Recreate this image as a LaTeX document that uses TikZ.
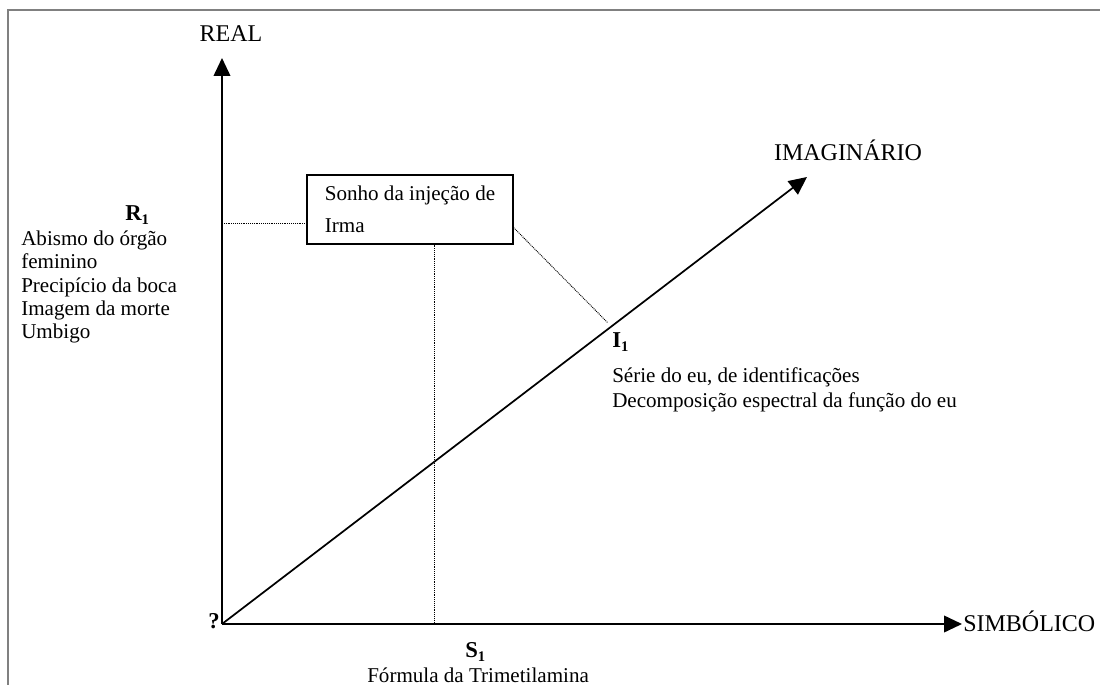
\documentclass[tikz,border=0pt]{standalone}
\usepackage{fontspec}
\setmainfont{Liberation Serif}
\usetikzlibrary{arrows.meta}
\newcommand\subone{\raisebox{-0.45ex}{\fontsize{11}{11}\selectfont\bfseries 1}}
\begin{document}
\begin{tikzpicture}[x=0.75pt,y=-0.75pt,
  txt/.style={inner sep=0pt, font=\fontsize{15.8}{18.5}\selectfont},
  caps/.style={inner sep=0pt, font=\fontsize{18}{20}\selectfont},
  lbl/.style={inner sep=0pt, font=\fontsize{17}{18.5}\selectfont\bfseries},
  axis/.style={line width=1.3pt, -{Triangle[length=13.5pt,width=12.5pt]}},
  dots/.style={line width=0.7pt, dash pattern=on 0.7pt off 0.7pt},
  frame/.style={draw=gray, line width=1.5pt}]
\useasboundingbox (0,0) rectangle (1100,685);
\draw[frame] (8,685) -- (8,10) -- (1100,10);
% axes
\coordinate (O) at (222,624);
\coordinate (Rtip) at (222,58);
\coordinate (Stip) at (962,624);
\coordinate (Itip) at (807,177);
\draw[axis] (O) -- (Rtip);
\draw[axis] (O) -- (Stip);
\draw[axis] (O) -- (Itip);
\node[caps, anchor=base] (real) at (231,42) {REAL};
\node[caps, anchor=base west] (simb) at (963,631) {SIMBÓLICO};
\node[caps, anchor=base] (imag) at (848,160) {IMAGINÁRIO};
\node[lbl, anchor=base east] (q) at (220,628) {?};
% box
\node[draw, line width=0.8pt, minimum width=154.5pt, minimum height=51.75pt,
      inner xsep=12pt, inner ysep=0pt, align=left,
      font=\fontsize{15.8}{24}\selectfont] (box) at (410,209.5) {\raisebox{-2pt}{Sonho da injeção de}\\\raisebox{-2pt}{Irma}};
% R1
\node[lbl, anchor=base west] (r1) at (125,220) {R\subone};
\node[txt, anchor=north west, align=left, font=\fontsize{15.8}{17.44}\selectfont] (rlist) at (21,230.6)
  {Abismo do órgão\\feminino\\Precipício da boca\\Imagem da morte\\Umbigo};
% I1
\node[lbl, anchor=base west] (i1) at (612,347) {I\subone};
\node[txt, anchor=north west, align=left, font=\fontsize{15.8}{18.75}\selectfont] (ilist) at (612,367.6)
  {Série do eu, de identificações\\Decomposição espectral da função do eu};
% S1
\node[lbl, anchor=base west] (s1) at (465,657) {S\subone};
\node[txt, anchor=base west] (sf) at (367,682) {Fórmula da Trimetilamina};
% dotted connectors
\coordinate (rdot) at (222,223);
\coordinate (sdot) at (434,624);
\coordinate (idot) at (608,323);
\draw[dots] (rdot) -- (box.west |- rdot);
\draw[dots] (box.south -| sdot) -- (sdot);
\draw[dots] ([yshift=12.75pt]box.south east) -- (idot);
\end{tikzpicture}
\end{document}
